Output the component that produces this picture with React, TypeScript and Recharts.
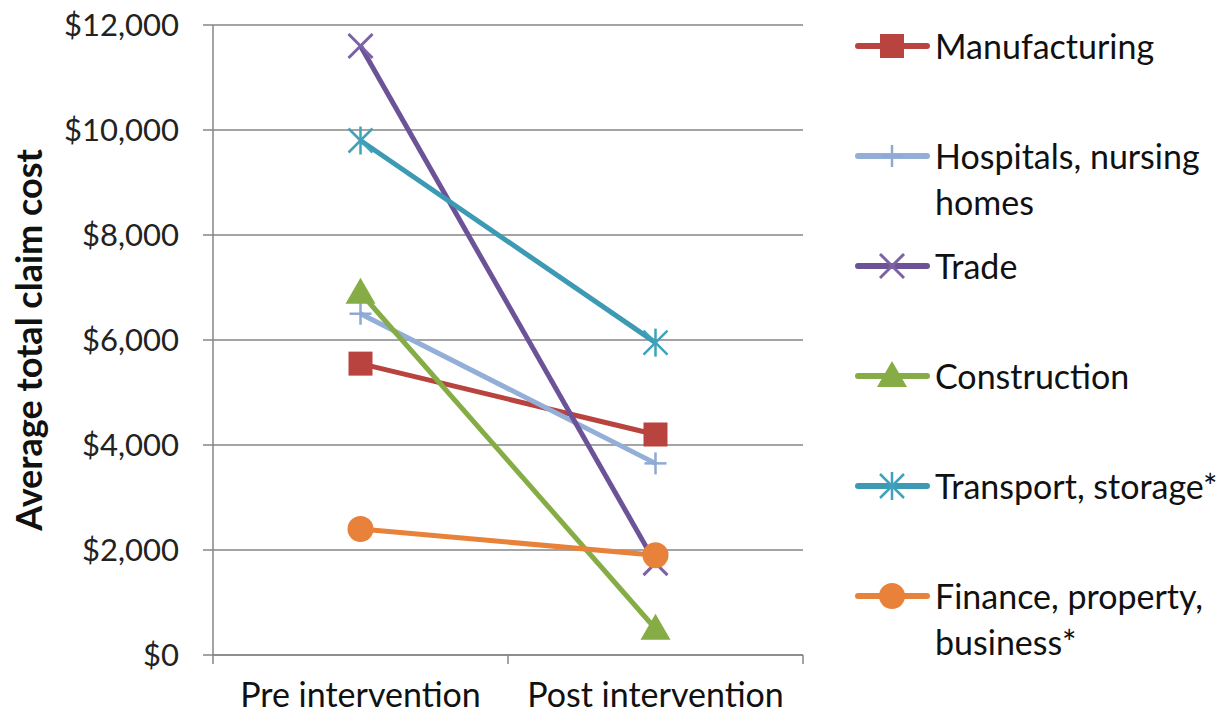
import React from 'react';
import { LineChart, Line, XAxis, YAxis, CartesianGrid, Legend } from 'recharts';

// Average total claim cost by industry, before and after the intervention
const categories = ['Pre intervention', 'Post intervention'];
const manufacturing = [5550, 4200];
const hospitals = [6500, 3650];
const trade = [11600, 1750];
const construction = [6900, 500];
const transport = [9800, 5950];
const finance = [2400, 1900];
const yTicks = [0, 2000, 4000, 6000, 8000, 10000, 12000];

const FONT = 'Lato, "Open Sans", sans-serif';
const GRID = '#868686';
const X_LABEL_GAP = 28;

type Marker = 'square' | 'plus' | 'cross' | 'triangle' | 'star' | 'circle';

const series: { key: string; name: string[]; color: string; markColor: string; marker: Marker }[] = [
  { key: 'manufacturing', name: ['Manufacturing'], color: '#B9433F', markColor: '#B9433F', marker: 'square' },
  { key: 'hospitals', name: ['Hospitals, nursing', 'homes'], color: '#93AFD8', markColor: '#8DA9D4', marker: 'plus' },
  { key: 'trade', name: ['Trade'], color: '#6C5397', markColor: '#7B62A6', marker: 'cross' },
  { key: 'construction', name: ['Construction'], color: '#86AC45', markColor: '#86AC45', marker: 'triangle' },
  { key: 'transport', name: ['Transport, storage*'], color: '#3D9AB4', markColor: '#3FA2BC', marker: 'star' },
  { key: 'finance', name: ['Finance, property,', 'business*'], color: '#E8823A', markColor: '#E8823A', marker: 'circle' },
];

const values: Record<string, number[]> = { manufacturing, hospitals, trade, construction, transport, finance };

const data = categories.map((c, i) => {
  const row: Record<string, string | number> = { category: c };
  series.forEach(s => { row[s.key] = values[s.key][i]; });
  return row;
});

function markerShape(kind: Marker, color: string, cx: number, cy: number, k: string | number) {
  switch (kind) {
    case 'square':
      return <rect key={k} x={cx - 12} y={cy - 12} width={24} height={24} fill={color} />;
    case 'plus':
      return (
        <g key={k} stroke={color} strokeWidth={2.5}>
          <line x1={cx - 11} y1={cy} x2={cx + 11} y2={cy} />
          <line x1={cx} y1={cy - 11} x2={cx} y2={cy + 11} />
        </g>
      );
    case 'cross':
      return (
        <g key={k} stroke={color} strokeWidth={3}>
          <line x1={cx - 12} y1={cy - 12} x2={cx + 12} y2={cy + 12} />
          <line x1={cx - 12} y1={cy + 12} x2={cx + 12} y2={cy - 12} />
        </g>
      );
    case 'star':
      return (
        <g key={k} stroke={color} strokeWidth={2.5}>
          <line x1={cx - 12} y1={cy - 12} x2={cx + 12} y2={cy + 12} />
          <line x1={cx - 12} y1={cy + 12} x2={cx + 12} y2={cy - 12} />
          <line x1={cx} y1={cy - 14} x2={cx} y2={cy + 14} />
        </g>
      );
    case 'triangle':
      return <polygon key={k} points={`${cx},${cy - 15} ${cx + 15},${cy + 11} ${cx - 15},${cy + 11}`} fill={color} />;
    case 'circle':
    default:
      return <circle key={k} cx={cx} cy={cy} r={13} fill={color} />;
  }
}

// category label plus the small tick marks at the band edges
const CategoryTick = (props: any) => {
  const { x, y, payload, width, visibleTicksCount, index } = props;
  const half = width && visibleTicksCount ? width / visibleTicksCount / 2 : 0;
  const axisY = y - X_LABEL_GAP;
  return (
    <g>
      {half > 0 && (
        <line x1={x - half} y1={axisY} x2={x - half} y2={axisY + 9} stroke={GRID} strokeWidth={1.5} />
      )}
      {half > 0 && index === visibleTicksCount - 1 && (
        <line x1={x + half} y1={axisY} x2={x + half} y2={axisY + 9} stroke={GRID} strokeWidth={1.5} />
      )}
      <text x={x} y={y} dy="0.71em" textAnchor="middle" fontFamily={FONT} fontSize={34} fill="#111">
        {payload.value}
      </text>
    </g>
  );
};

const renderLegend = () => (
  <div style={{ fontFamily: FONT, fontSize: 34, color: '#111', lineHeight: '46px' }}>
    {series.map(s => (
      <div key={s.key} style={{ display: 'flex', height: 110, alignItems: 'flex-start' }}>
        <svg width={80} height={46} style={{ flexShrink: 0 }}>
          <line x1={3} y1={23} x2={72} y2={23} stroke={s.color} strokeWidth={6} strokeLinecap="round" />
          {markerShape(s.marker, s.markColor, 37, 23, 'm')}
        </svg>
        <div style={{ whiteSpace: 'nowrap' }}>
          {s.name.map(line => <div key={line}>{line}</div>)}
        </div>
      </div>
    ))}
  </div>
);

const money = (v: number) => `$${v.toLocaleString('en-US')}`;

export default function App() {
  return (
    <div style={{ position: 'absolute', left: 0, top: 0, background: '#fff' }}>
      <LineChart
        width={1230}
        height={721}
        data={data}
        margin={{ top: 25, right: 52, bottom: 0, left: 0 }}
      >
        <CartesianGrid vertical={false} stroke={GRID} strokeWidth={1.5} />
        <XAxis
          dataKey="category"
          scale="band"
          axisLine={{ stroke: GRID, strokeWidth: 1.5 }}
          tickLine={false}
          tickSize={0}
          tickMargin={X_LABEL_GAP}
          height={66}
          interval={0}
          tick={<CategoryTick />}
        />
        <YAxis
          domain={[0, 12000]}
          ticks={yTicks}
          width={213}
          tickSize={10}
          tickMargin={24}
          axisLine={{ stroke: GRID, strokeWidth: 1.5 }}
          tickLine={{ stroke: GRID, strokeWidth: 1.5 }}
          tickFormatter={money}
          tick={{ fontFamily: FONT, fontSize: 31, fill: '#222' }}
          label={{
            content: (p: any) => {
              const vb = p.viewBox;
              const cx = vb.x + 28;
              const cy = vb.y + vb.height / 2;
              return (
                <text
                  x={cx}
                  y={cy}
                  transform={`rotate(-90, ${cx}, ${cy})`}
                  textAnchor="middle"
                  dominantBaseline="central"
                  fontFamily={FONT}
                  fontWeight="bold"
                  fontSize={36}
                  fill="#111"
                >
                  Average total claim cost
                </text>
              );
            },
          }}
        />
        {series.map(s => (
          <Line
            key={s.key}
            dataKey={s.key}
            name={s.name.join(' ')}
            stroke={s.color}
            strokeWidth={5}
            isAnimationActive={false}
            dot={(p: any) => markerShape(s.marker, s.markColor, p.cx, p.cy, `${s.key}-${p.index}`)}
            activeDot={false}
          />
        ))}
        <Legend
          layout="vertical"
          align="right"
          verticalAlign="top"
          content={renderLegend}
          wrapperStyle={{ left: 855, top: 23, width: 375 }}
        />
      </LineChart>
    </div>
  );
}
